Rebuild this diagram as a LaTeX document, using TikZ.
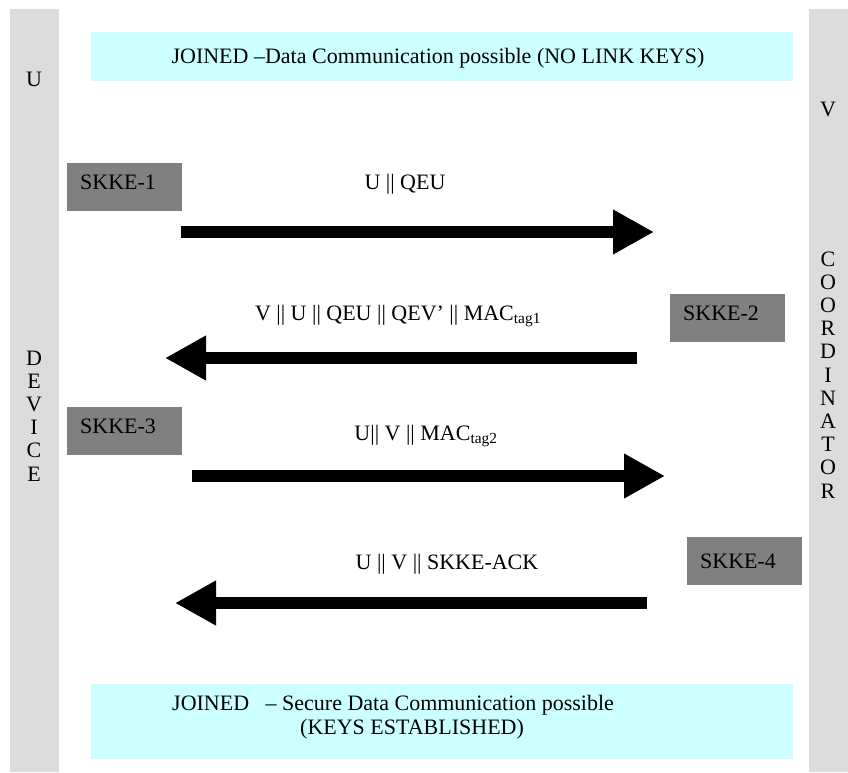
\documentclass[tikz,border=0pt]{standalone}
\usepackage{fontspec}
\setmainfont{Liberation Serif}
\usetikzlibrary{arrows.meta}
\definecolor{lanegray}{HTML}{DCDCDC}
\definecolor{stepgray}{HTML}{808080}
\definecolor{statecyan}{HTML}{CCFFFF}
\begin{document}
\begin{tikzpicture}[x=1pt, y=-1pt,
  every node/.style={font=\fontsize{22}{23.2}\selectfont, inner sep=0pt},
  lane/.style={fill=lanegray, anchor=north west, minimum height=763pt},
  statebox/.style={fill=statecyan, anchor=north west, minimum width=702pt},
  stepbox/.style={fill=stepgray, anchor=north west, text width=89pt, align=left,
    inner xsep=13pt, inner ysep=0pt, text height=26pt, text depth=22pt},
  msg/.style={line width=12pt, -{Triangle[length=41pt,width=42pt]}},
  lbl/.style={anchor=base}
]
\useasboundingbox (0,0) rectangle (848,772);

% lifelines of the two parties
\node[lane, minimum width=49pt] (devlane) at (10,9) {};
\node[lane, minimum width=39pt] (corlane) at (809,9) {};
\node[lbl] (uname) at (34,86) {U};
\node[lbl] (vname) at (828,116) {V};
\foreach \ch [count=\i from 0] in {D,E,V,I,C,E}
  \node[lbl] (dev-\i) at (34,{365+23.2*\i}) {\ch};
\foreach \ch [count=\i from 0] in {C,O,O,R,D,I,N,A,T,O,R}
  \node[lbl] (cor-\i) at (828,{266+23.2*\i}) {\ch};

% state before and after the key establishment
\node[statebox, minimum height=49pt] (joined) at (91,32) {};
\node[lbl] (joinedtxt) at (438,63) {JOINED –Data Communication possible (NO LINK KEYS)};
\node[statebox, minimum height=75pt] (secured) at (91,684) {};
\node[lbl, anchor=base west] (securedtxt) at (172,710) {JOINED\ \ \ – Secure Data Communication possible};
\node[lbl, anchor=base west] (securedtxt2) at (300,734) {(KEYS ESTABLISHED)};

% protocol steps
\node[stepbox] (s1) at (67,163) {SKKE-1};
\node[stepbox] (s2) at (670,294) {SKKE-2};
\node[stepbox] (s3) at (67,407) {SKKE-3};
\node[stepbox, text height=31pt, text depth=17pt] (s4) at (687,537) {SKKE-4};

% messages
\node[lbl] (l1) at (405,189) {U || QEU};
\node[lbl] (l2) at (398,320) {V || U || QEU || QEV’ || MAC\textsubscript{tag1}};
\node[lbl] (l3) at (426,440) {U|| V || MAC\textsubscript{tag2}};
\node[lbl] (l4) at (447,569) {U || V || SKKE-ACK};

\coordinate (m1s) at (181,232); \coordinate (m1e) at (654,232);
\coordinate (m2s) at (637,358); \coordinate (m2e) at (165,358);
\coordinate (m3s) at (192,476); \coordinate (m3e) at (665,476);
\coordinate (m4s) at (647,603); \coordinate (m4e) at (175,603);
\draw[msg] (m1s) -- (m1e);
\draw[msg] (m2s) -- (m2e);
\draw[msg] (m3s) -- (m3e);
\draw[msg] (m4s) -- (m4e);
\end{tikzpicture}
\end{document}
